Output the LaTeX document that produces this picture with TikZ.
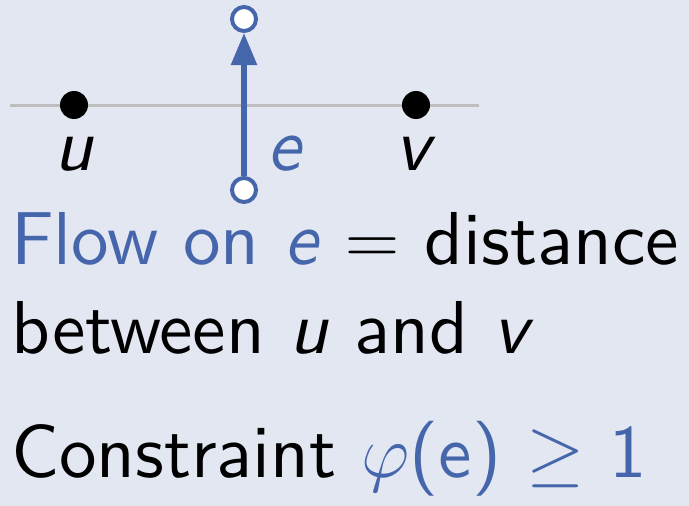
\RequirePackage{fix-cm}
\documentclass[tikz,border=0pt]{standalone}
\usepackage{fontspec}
\setsansfont{lmsans10-regular.otf}[ItalicFont=lmsans10-oblique.otf,BoldFont=lmsans10-bold.otf]
\usetikzlibrary{arrows.meta}
\definecolor{bgc}{RGB}{227,231,242}
\definecolor{flowblue}{RGB}{70,102,172}
\definecolor{linegray}{RGB}{190,190,190}
\tikzset{
  vdot/.style={circle,fill=black,inner sep=0pt,minimum size=28pt},
  odot/.style={circle,draw=flowblue,fill=white,line width=4pt,inner sep=0pt,minimum size=24pt},
  lbl/.style={anchor=base,inner sep=0pt,font=\fontsize{75}{82}\selectfont\sffamily},
  txt/.style={anchor=base west,inner sep=0pt,font=\fontsize{75}{82}\selectfont\sffamily},
}
\begin{document}
\begin{tikzpicture}[x=1pt,y=-1pt]
\fill[bgc] (0,0) rectangle (689,506);
\useasboundingbox (0,0) rectangle (689,506);
\coordinate (gl) at (10,105);
\coordinate (gr) at (479,105);
\draw[linegray,line width=3pt] (gl) -- (gr);
\node[vdot] (u) at (74,105) {};
\node[vdot] (v) at (416,105) {};
\node[odot] (b) at (244,190) {};
\node[odot] (t) at (244,19) {};
\draw[flowblue,line width=5.5pt,-{Triangle[length=32pt,width=25pt]}] (b) -- (t);
\node[lbl] (ul) at (74,170) {\textit{u}};
\node[lbl] (vl) at (416,170) {\textit{v}};
\node[lbl,text=flowblue] (el) at (286,170) {\textit{e}};
\node[txt] (l1) at (11,264) {{\color{flowblue}Flow on \textit{e}} $=$ distance};
\node[txt] (l2) at (11,353) {between \textit{u} and \textit{v}};
\node[txt] (l3) at (11,477) {Constraint {\color{flowblue}$\varphi$(e) $\geq$ 1}};
\end{tikzpicture}
\end{document}
